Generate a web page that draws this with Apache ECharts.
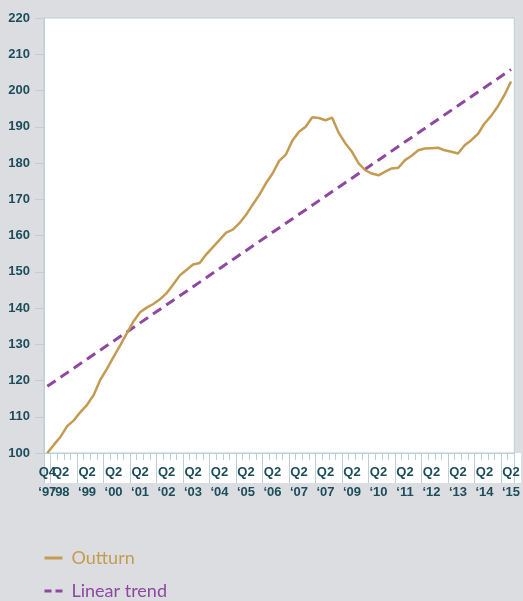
<!DOCTYPE html>
<html>
<head>
<meta charset="utf-8">
<script src="https://cdn.jsdelivr.net/npm/echarts@6/dist/echarts.min.js"></script>
<style>
  html, body { margin: 0; padding: 0; background: #dcdde0; }
  #chart { width: 523px; height: 601px; }
</style>
</head>
<body>
<div id="chart"></div>
<script>
// quarterly outturn, Q4 1997 = 100
var outturn = [
  100.0, 102.3, 104.5, 107.4, 109.0, 111.3, 113.3, 116.0, 120.2, 123.2,
  126.5, 129.7, 133.0, 136.3, 138.8, 140.1, 141.1, 142.4, 144.1, 146.5,
  149.0, 150.5, 152.0, 152.4, 154.8, 156.8, 158.8, 160.8, 161.6, 163.4,
  165.7, 168.5, 171.2, 174.4, 177.1, 180.6, 182.3, 186.2, 188.6, 190.0,
  192.6, 192.4, 191.8, 192.5, 188.3, 185.4, 183.1, 179.9, 178.0, 177.1,
  176.6, 177.6, 178.5, 178.7, 180.8, 182.0, 183.5, 184.0, 184.1, 184.2,
  183.5, 183.1, 182.6, 184.9, 186.3, 188.0, 190.9, 193.0, 195.6, 198.7,
  202.5
];
// linear trend, start and end points
var trendCats = ['1997 Q4', '2015 Q2'];
var trendValues = [118.4, 205.8];

// x tick labels (as printed, incl. the repeated '07)
var tickCats = ['1997 Q4', '1998 Q2', '1999 Q2', '2000 Q2', '2001 Q2', '2002 Q2', '2003 Q2',
  '2004 Q2', '2005 Q2', '2006 Q2', '2007 Q2', '2008 Q2', '2009 Q2', '2010 Q2', '2011 Q2',
  '2012 Q2', '2013 Q2', '2014 Q2', '2015 Q2'];
var tickQuarters = ['Q4', 'Q2', 'Q2', 'Q2', 'Q2', 'Q2', 'Q2', 'Q2', 'Q2', 'Q2', 'Q2', 'Q2',
  'Q2', 'Q2', 'Q2', 'Q2', 'Q2', 'Q2', 'Q2'];
var tickYears = ['‘97', '‘98', '‘99', '‘00', '‘01', '‘02', '‘03', '‘04', '‘05', '‘06',
  '‘07', '‘07', '‘09', '‘10', '‘11', '‘12', '‘13', '‘14', '‘15'];

// categories Q4 1997 .. Q2 2015
var categories = [];
for (var y = 1997; y <= 2015; y++) {
  for (var q = 1; q <= 4; q++) {
    if (y === 1997 && q < 4) continue;
    if (y === 2015 && q > 2) continue;
    categories.push(y + ' Q' + q);
  }
}

var gridLeft = 44, gridRight = 2, gridTop = 18, gridBottom = 148;
var stripHeight = 30;
var axisColor = '#bccfd5';
var labelColor = '#1c4d5b';
var gold = '#c49b52', purple = '#8e48a0';

var myChart = echarts.init(document.getElementById('chart'));

// one legend per row
function legendRow(name, top, color, lineStyle) {
  return {
    orient: 'vertical',
    left: 43,
    top: top,
    padding: 0,
    itemWidth: 18,
    itemHeight: 12,
    itemStyle: { opacity: 0 },
    textStyle: { fontFamily: 'Lato', fontSize: 18, lineHeight: 22, color: color, padding: [0, 0, 0, 4] },
    data: [{ name: name, lineStyle: lineStyle }]
  };
}

var labelStyle = {
  formatter: function (value) {
    var k = tickCats.indexOf(value);
    return tickQuarters[k] + '\n' + tickYears[k];
  },
  showMinLabel: true,
  showMaxLabel: true,
  hideOverlap: false,
  color: labelColor,
  fontFamily: 'Liberation Sans',
  fontWeight: 'bold',
  fontSize: 13,
  lineHeight: 20,
  margin: 9
};

var option = {
  backgroundColor: '#dcdde0',
  animation: false,
  grid: {
    left: gridLeft, right: gridRight, top: gridTop, bottom: gridBottom,
    show: true,
    backgroundColor: '#ffffff',
    borderColor: axisColor,
    borderWidth: 1
  },
  graphic: [{
    type: 'rect',
    z: -1,
    shape: { x: gridLeft, y: 601 - gridBottom, width: 523 - gridLeft - gridRight, height: stripHeight },
    style: { fill: '#ffffff' }
  }],
  legend: [
    legendRow('Outturn', 547, gold, { width: 3 }),
    legendRow('Linear trend', 580, purple, { width: 3, type: [7, 4] })
  ],
  xAxis: [
    {
      // Q2 labels + short quarter ticks
      type: 'category',
      data: categories,
      boundaryGap: true,
      position: 'bottom',
      axisLine: { lineStyle: { color: axisColor } },
      axisTick: { show: true, interval: 0, length: 7, lineStyle: { color: axisColor } },
      axisLabel: Object.assign({}, labelStyle, {
        interval: function (index, value) { return index > 0 && tickCats.indexOf(value) >= 0; }
      })
    },
    {
      // first (Q4) label + long year separators
      type: 'category',
      data: categories,
      boundaryGap: true,
      position: 'bottom',
      axisLine: { show: false },
      axisLabel: Object.assign({}, labelStyle, {
        interval: function (index) { return index === 0; }
      }),
      axisTick: {
        show: true,
        interval: function (index) { return index % 4 === 1 || index === 0 || index === categories.length; },
        length: stripHeight,
        lineStyle: { color: axisColor }
      }
    }
  ],
  yAxis: {
    type: 'value',
    min: 100,
    max: 220,
    interval: 10,
    splitLine: { show: false },
    axisLine: { show: true, lineStyle: { color: axisColor } },
    axisTick: { show: true, length: 9, lineStyle: { color: axisColor } },
    axisLabel: {
      color: labelColor,
      fontFamily: 'Liberation Sans',
      fontWeight: 'bold',
      fontSize: 13,
      margin: 14
    }
  },
  series: [
    {
      name: 'Outturn',
      type: 'line',
      data: outturn,
      symbol: 'none',
      lineStyle: { color: gold, width: 2.5 },
      itemStyle: { color: gold },
      z: 3
    },
    {
      name: 'Linear trend',
      type: 'line',
      data: trendCats.map(function (c, i) { return [c, trendValues[i]]; }),
      symbol: 'none',
      lineStyle: { color: purple, width: 3, type: [10, 6] },
      itemStyle: { color: purple },
      z: 2
    }
  ]
};

myChart.setOption(option);
</script>
</body>
</html>
